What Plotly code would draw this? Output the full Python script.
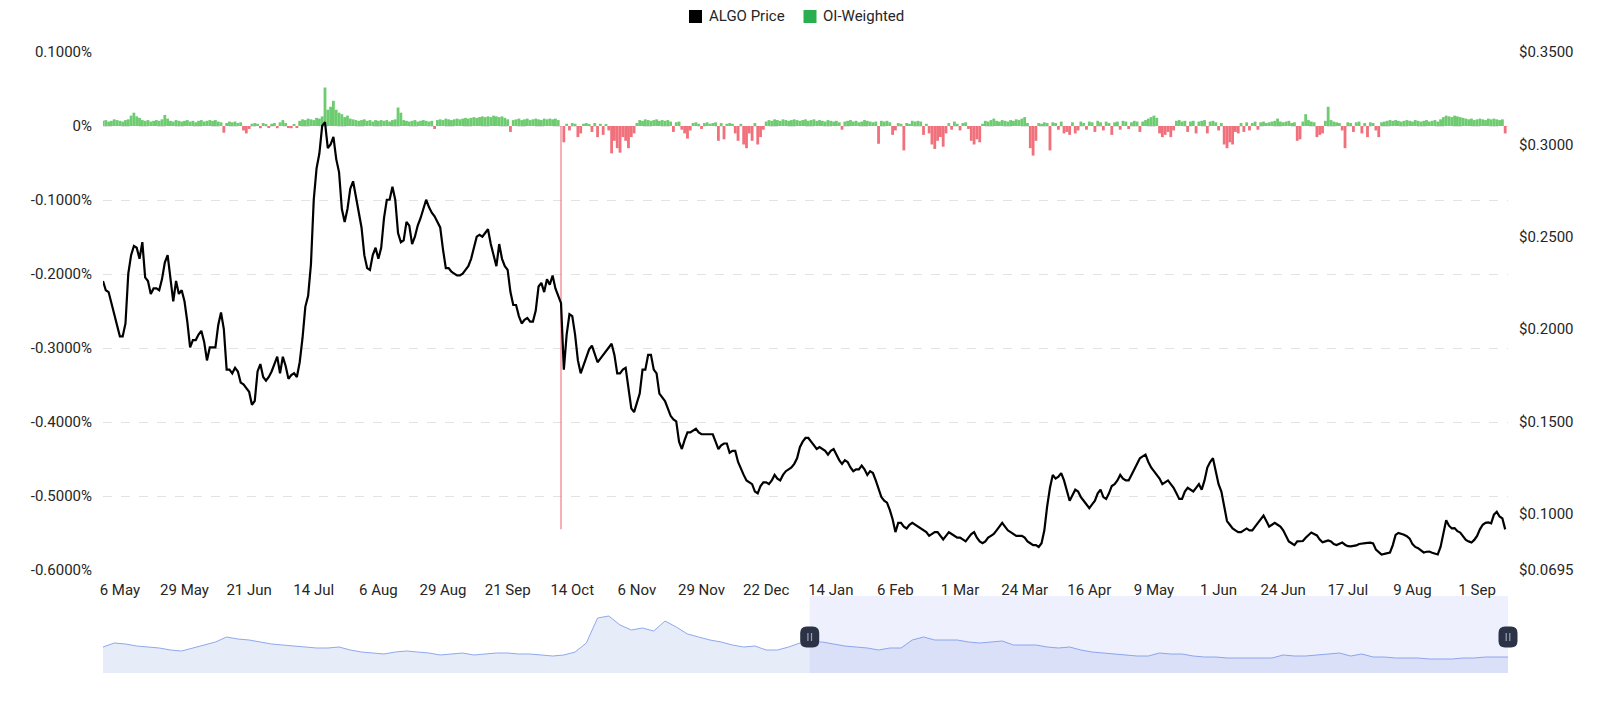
import pandas as pd
import plotly.graph_objects as go

# ---------------- data ----------------
start_date = "2022-04-30"
end_date = "2023-09-12"
zoom_start = "2023-01-06 12:00"

# ALGO price, one value per day from start_date
price = [
    .226, .221, .220, .214, .208, .203, .196, .196, .203, .230,
    .240, .245, .244, .238, .247, .228, .226, .219, .222, .222,
    .221, .227, .236, .240, .228, .215, .226, .219, .221, .215,
    .204, .190, .194, .194, .197, .199, .193, .183, .190, .190,
    .190, .202, .209, .200, .178, .178, .176, .179, .177, .171,
    .170, .168, .166, .159, .161, .177, .181, .174, .172, .174,
    .177, .181, .185, .176, .185, .180, .173, .175, .176, .174,
    .182, .195, .212, .218, .235, .270, .287, .295, .310, .312,
    .298, .300, .304, .292, .285, .265, .258, .265, .276, .280,
    .272, .262, .255, .240, .233, .232, .240, .244, .238, .244,
    .260, .270, .270, .277, .270, .252, .247, .248, .258, .256,
    .246, .250, .256, .260, .265, .270, .266, .263, .261, .258,
    .255, .243, .233, .233, .231, .230, .229, .229, .230, .232,
    .234, .238, .244, .250, .251, .250, .252, .254, .246, .240,
    .234, .246, .238, .234, .232, .220, .213, .213, .207, .203,
    .205, .206, .204, .204, .210, .223, .225, .220, .227, .224,
    .229, .222, .218, .214, .178, .197, .208, .207, .197, .183,
    .176, .180, .185, .189, .191, .186, .182, .184, .186, .188,
    .190, .192, .186, .176, .176, .178, .179, .168, .157, .155,
    .160, .165, .178, .178, .186, .186, .178, .176, .165, .163,
    .161, .157, .153, .151, .150, .139, .135, .140, .144, .144,
    .145, .146, .144, .143, .143, .143, .143, .143, .139, .135,
    .137, .138, .138, .133, .134, .134, .128, .124, .121, .118,
    .117, .116, .112, .111, .115, .117, .117, .116, .118, .121,
    .119, .118, .121, .123, .124, .125, .127, .130, .136, .139,
    .141, .141, .139, .137, .135, .136, .135, .134, .132, .134,
    .135, .132, .129, .127, .129, .128, .125, .123, .124, .124,
    .126, .124, .121, .123, .122, .118, .114, .109, .107, .106,
    .102, .097, .090, .095, .095, .093, .092, .094, .095, .094,
    .093, .092, .091, .090, .088, .089, .090, .090, .088, .086,
    .088, .090, .089, .088, .087, .087, .086, .085, .087, .089,
    .090, .087, .085, .084, .085, .087, .088, .089, .091, .093,
    .095, .093, .091, .090, .089, .088, .088, .088, .087, .085,
    .084, .083, .083, .082, .084, .091, .104, .114, .121, .119,
    .120, .122, .118, .113, .107, .110, .113, .112, .109, .107,
    .105, .103, .105, .107, .111, .113, .109, .108, .111, .115,
    .116, .118, .121, .119, .118, .118, .121, .124, .127, .130,
    .131, .132, .128, .125, .123, .121, .119, .116, .117, .118,
    .116, .114, .111, .108, .108, .112, .114, .113, .112, .114,
    .116, .113, .118, .125, .128, .130, .122, .116, .112, .104,
    .096, .094, .092, .091, .090, .090, .091, .092, .091, .091,
    .093, .095, .097, .099, .096, .093, .094, .095, .094, .093,
    .091, .088, .085, .084, .083, .085, .085, .0852, .087, .0885,
    .0898, .089, .0882, .086, .0845, .085, .0855, .085, .0835, .083,
    .0838, .0844, .0832, .0824, .0823, .0826, .0828, .0836, .0839, .0839,
    .0842, .0843, .0839, .0805, .079, .0779, .0782, .0786, .079, .083,
    .0885, .0896, .0893, .0886, .0878, .0865, .0835, .082, .0813, .080,
    .079, .0794, .0795, .0788, .0783, .0779, .082, .090, .0965, .0935,
    .092, .0922, .0905, .0898, .088, .0858, .085, .0844, .0858, .088,
    .0915, .094, .095, .0953, .0948, .0995, .101, .0985, .0974, .0915,
]

# OI-weighted funding rate (%), one value per day from start_date
funding = [
    .007, .008, .006, .007, .009, .008, .007, .006, .008, .009,
    .014, .018, .013, .011, .008, .007, .008, .006, .007, .008,
    .007, .009, .015, .010, .007, .006, .008, .007, .006, .007,
    .008, .006, .007, .005, .007, .008, .006, .007, .008, .007,
    .008, .006, .005, -.009, .004, .006, .005, .006, .004, .005,
    -.006, -.010, -.004, .003, .004, .003, -.003, .004, .002, -.002,
    .003, .004, -.003, .005, .008, .004, -.002, -.003, .002, -.002,
    .007, .009, .008, .010, .009, .008, .011, .010, .013, .052,
    .022, .026, .034, .022, .018, .016, .012, .014, .010, .009,
    .008, .007, .008, .009, .007, .008, .006, .008, .007, .008,
    .007, .008, .006, .008, .009, .025, .018, .008, .007, .006,
    .007, .008, .006, .007, .008, .007, .006, .007, -.004, .008,
    .009, .008, .010, .009, .008, .009, .010, .009, .010, .011,
    .010, .011, .012, .011, .012, .013, .012, .013, .012, .014,
    .013, .012, .013, .011, .009, -.008, .008, .009, .010, .008,
    .009, .010, .008, .009, .010, .009, .008, .010, .009, .010,
    .009, .010, .008, -.545, -.022, .003, -.006, .004, .003, -.015,
    -.010, .003, .004, .002, -.008, .004, -.015, .003, -.012, .002,
    -.006, -.037, -.020, -.030, -.036, -.015, -.020, -.030, -.015, -.010,
    .004, .008, .007, .009, .008, .007, .008, .009, .007, .008,
    .007, .008, .006, -.008, .005, .006, -.005, -.010, -.017, -.006,
    .004, .005, .003, -.004, .004, .005, .003, .004, .005, -.020,
    .004, -.018, .003, .004, .003, -.010, -.020, .003, -.025, -.030,
    -.010, -.020, .004, -.025, -.015, -.005, .006, .008, .007, .009,
    .008, .007, .009, .008, .007, .008, .009, .008, .007, .008,
    .009, .007, .008, .009, .007, .008, .007, .006, .008, .007,
    .006, .007, .005, -.005, .006, .007, .008, .006, .007, .005,
    .006, .008, .007, .006, .005, .006, -.024, .007, .006, .007,
    .005, -.012, -.006, .004, .003, -.033, .004, .003, .007, .006,
    .007, .006, -.012, .003, -.010, -.025, -.031, -.020, -.015, -.028,
    -.010, .004, -.005, .006, .003, -.006, .004, .005, -.004, -.020,
    -.025, -.018, -.022, .003, .007, .006, .008, .010, .007, .006,
    .008, .007, .006, .008, .007, .009, .008, .010, .012, .004,
    -.030, -.040, -.020, .004, .003, .005, .004, -.033, .005, .004,
    -.005, .006, -.010, -.008, -.012, .005, -.010, -.006, .006, .004,
    -.005, .006, .005, -.008, .007, .005, -.006, .006, .004, -.012,
    .005, .006, -.005, .007, .006, -.004, .005, .007, .006, -.008,
    .006, .008, .010, .012, .014, .011, -.010, -.015, -.012, -.008,
    -.015, -.006, .007, .008, .006, .007, -.008, .006, .007, -.010,
    .006, .007, .008, -.010, .006, .007, .005, -.006, .004, -.025,
    -.030, -.022, -.025, -.008, -.010, .004, -.008, .005, -.006, .004,
    .006, -.005, .005, .006, .004, .005, .006, .007, .010, .006,
    .005, .006, .007, .004, .005, -.020, -.018, .006, .016, .008,
    .006, .005, -.015, -.012, -.010, .007, .026, .008, .006, .005,
    .004, -.006, -.030, .005, .004, -.008, .005, .006, -.010, .004,
    -.015, .005, .004, -.006, -.015, .005, .006, .007, .008, .007,
    .008, .007, .006, .007, .008, .007, .006, .008, .007, .006,
    .007, .008, .006, .007, .008, .006, .009, .012, .014, .013,
    .012, .014, .013, .012, .011, .010, .009, .010, .008, .009,
    .010, .009, .008, .010, .009, .010, .009, .008, .009, -.010,
]

# overview series shown in the zoom slider, one value every 4 days
slider_values = [
    26, 30, 29, 27, 26, 25, 23, 22, 25, 28,
    31, 36, 34, 33, 31, 29, 28, 27, 26, 25,
    25, 26, 23, 21, 20, 19, 21, 22, 21, 20,
    18, 19, 20, 18, 19, 20, 20, 19, 19, 18,
    17, 18, 21, 30, 55, 57, 48, 43, 45, 42,
    52, 46, 39, 36, 33, 31, 28, 26, 27, 23,
    23, 26, 30, 31, 31, 29, 27, 26, 25, 23,
    25, 25, 33, 36, 33, 33, 33, 31, 30, 31,
    32, 28, 28, 28, 26, 25, 26, 23, 21, 20,
    19, 18, 17, 17, 20, 19, 19, 17, 16, 16,
    15, 15, 15, 15, 15, 18, 17, 17, 18, 19,
    20, 17, 19, 16, 16, 15, 15, 15, 14, 14,
    14, 15, 15, 16, 16, 16,
]

x_tick_dates = [
    "2022-05-06", "2022-05-29", "2022-06-21", "2022-07-14", "2022-08-06",
    "2022-08-29", "2022-09-21", "2022-10-14", "2022-11-06", "2022-11-29",
    "2022-12-22", "2023-01-14", "2023-02-06", "2023-03-01", "2023-03-24",
    "2023-04-16", "2023-05-09", "2023-06-01", "2023-06-24", "2023-07-17",
    "2023-08-09", "2023-09-01",
]
x_tick_text = [
    "6 May", "29 May", "21 Jun", "14 Jul", "6 Aug", "29 Aug", "21 Sep",
    "14 Oct", "6 Nov", "29 Nov", "22 Dec", "14 Jan", "6 Feb", "1 Mar",
    "24 Mar", "16 Apr", "9 May", "1 Jun", "24 Jun", "17 Jul", "9 Aug", "1 Sep",
]
left_ticks = [0.1, 0, -0.1, -0.2, -0.3, -0.4, -0.5, -0.6]
left_text = ["0.1000%", "0%", "-0.1000%", "-0.2000%", "-0.3000%",
             "-0.4000%", "-0.5000%", "-0.6000%"]
right_ticks = [0.35, 0.30, 0.25, 0.20, 0.15, 0.10, 0.0695]
right_text = ["$0.3500", "$0.3000", "$0.2500", "$0.2000", "$0.1500",
              "$0.1000", "$0.0695"]

# ---------------- figure ----------------
dates = pd.date_range(start_date, periods=len(price), freq="D")
fdates = pd.date_range(start_date, periods=len(funding), freq="D")
sdates = pd.date_range(start_date, periods=len(slider_values), freq="4D")

GREEN = "#6dcb70"
RED = "#f0707c"
DAY_MS = 86400000
bar_colors = [GREEN if v >= 0 else RED for v in funding]
# very large spikes are drawn as hairlines, as in the source chart
bar_widths = [DAY_MS * (0.35 if abs(v) > 0.1 else 1.0) for v in funding]
bar_opac = [0.55 if abs(v) > 0.1 else 1.0 for v in funding]

FONT = "Roboto, 'Noto Sans', sans-serif"
TXT = "#262626"
FS = 15

fig = go.Figure()
fig.add_trace(go.Bar(
    x=fdates, y=funding, width=bar_widths,
    marker=dict(color=bar_colors, opacity=bar_opac, line=dict(width=0)),
    name="OI-Weighted", xaxis="x", yaxis="y", showlegend=False,
))
fig.add_trace(go.Scatter(
    x=dates, y=price, mode="lines", line=dict(color="#000000", width=2.2),
    name="ALGO Price", xaxis="x", yaxis="y2", showlegend=False,
))
fig.add_trace(go.Scatter(
    x=sdates, y=slider_values, mode="lines", fill="tozeroy",
    line=dict(color="#8fa9ee", width=1), fillcolor="#e7ecf9",
    xaxis="x2", yaxis="y3", showlegend=False, hoverinfo="skip",
))

W, H = 1600, 713
ML, MR, MT, MB = 103, 92, 52, 40
PW, PH = W - ML - MR, H - MT - MB


def px_x(p):
    return (p - ML) / PW


def px_y(p):
    return (H - MB - p) / PH


main_bottom = px_y(570)
slider_top = px_y(596)

t0 = pd.Timestamp(start_date)
t1 = pd.Timestamp(end_date)
zs = pd.Timestamp(zoom_start)
zoom_frac = (zs - t0) / (t1 - t0)

fig.update_layout(
    width=W, height=H,
    margin=dict(l=ML, r=MR, t=MT, b=MB),
    paper_bgcolor="white", plot_bgcolor="white",
    font=dict(family=FONT, size=FS, color=TXT),
    barmode="overlay",
    xaxis=dict(
        type="date", range=[start_date, end_date], domain=[0, 1], anchor="y",
        tickmode="array", tickvals=x_tick_dates, ticktext=x_tick_text,
        showgrid=False, showline=False, zeroline=False, ticks="",
        ticklabelstandoff=9, tickfont=dict(size=FS, color=TXT),
    ),
    yaxis=dict(
        domain=[main_bottom, 1], range=[-0.6, 0.1], anchor="x",
        tickmode="array", tickvals=left_ticks, ticktext=left_text,
        showgrid=True, gridcolor="#e3e3e3", griddash="dash", gridwidth=1,
        zeroline=False, showline=False, ticks="", ticklabelstandoff=10,
        tickfont=dict(size=FS, color=TXT),
    ),
    yaxis2=dict(
        domain=[main_bottom, 1], range=[0.0695, 0.35], overlaying="y", side="right",
        anchor="x", tickmode="array", tickvals=right_ticks, ticktext=right_text,
        showgrid=False, zeroline=False, showline=False, ticks="", ticklabelstandoff=10,
        tickfont=dict(size=FS, color=TXT),
    ),
    xaxis2=dict(
        type="date", range=[start_date, end_date], domain=[0, 1], anchor="y3",
        visible=False,
    ),
    yaxis3=dict(domain=[0, slider_top], range=[0, 77], anchor="x2", visible=False),
)

shapes = []
# selected window of the zoom slider
shapes.append(dict(
    type="rect", xref="x2", yref="y3 domain", x0=zs, x1=t1, y0=0, y1=1,
    fillcolor="rgba(120,150,240,0.13)", line=dict(width=0), layer="above",
))
# slider handles
hy = px_y(637)
handle_path = ("M -3,-10.5 L 3,-10.5 Q 9.5,-10.5 9.5,-4 L 9.5,4 Q 9.5,10.5 3,10.5 "
               "L -3,10.5 Q -9.5,10.5 -9.5,4 L -9.5,-4 Q -9.5,-10.5 -3,-10.5 Z")
for hx in (zoom_frac, 1.0):
    shapes.append(dict(
        type="path", xref="paper", yref="paper", xsizemode="pixel", ysizemode="pixel",
        xanchor=hx, yanchor=hy, path=handle_path,
        fillcolor="#2d3346", line=dict(width=0), layer="above",
    ))
    for dx in (-1.8, 1.8):
        shapes.append(dict(
            type="line", xref="paper", yref="paper", xsizemode="pixel", ysizemode="pixel",
            xanchor=hx, yanchor=hy, x0=dx, x1=dx, y0=-4, y1=4,
            line=dict(color="#9aa1b3", width=1.2), layer="above",
        ))
# legend squares
ly = px_y(16.5)
for cx, col in ((695.5, "#000000"), (810, "#2aae50")):
    shapes.append(dict(
        type="rect", xref="paper", yref="paper", xsizemode="pixel", ysizemode="pixel",
        xanchor=px_x(cx), yanchor=ly, x0=-6.5, x1=6.5, y0=-6.5, y1=6.5,
        fillcolor=col, line=dict(width=0),
    ))
fig.update_layout(shapes=shapes)

fig.add_annotation(text="ALGO Price", xref="paper", yref="paper", x=px_x(707), y=ly,
                   xanchor="left", yanchor="middle", showarrow=False,
                   font=dict(size=FS, color=TXT, family=FONT))
fig.add_annotation(text="OI-Weighted", xref="paper", yref="paper", x=px_x(821), y=ly,
                   xanchor="left", yanchor="middle", showarrow=False,
                   font=dict(size=FS, color=TXT, family=FONT))

fig.write_html(
    "out.html",
    config={"displayModeBar": False},
    post_script="document.body.style.margin='0';document.body.style.overflow='hidden';",
)
